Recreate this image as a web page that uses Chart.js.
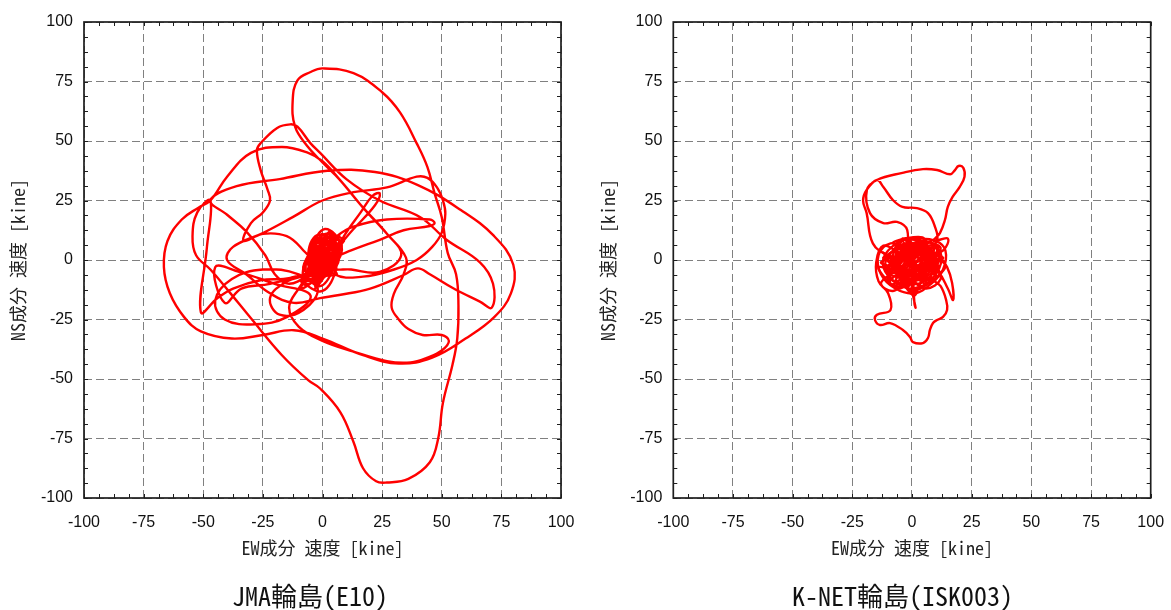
<!DOCTYPE html>
<html lang="ja">
<head>
<meta charset="utf-8">
<title>速度オービット</title>
<script src="https://cdn.jsdelivr.net/npm/chart.js@4.4.1/dist/chart.umd.min.js"></script>
<style>
  html, body { margin: 0; padding: 0; background: #fff; overflow: hidden; width: 1171px; height: 610px; }
  canvas { position: absolute; top: 0; }
  #jma { left: 0; width: 590px; height: 610px; }
  #knet { left: 590px; width: 581px; height: 610px; }
</style>
</head>
<body>
<canvas id="jma" width="590" height="610"></canvas>
<canvas id="knet" width="581" height="610"></canvas>
<script>
// Axis ticks (kine)
const tickValues = [-100, -75, -50, -25, 0, 25, 50, 75, 100];
const tickLabels = ['-100', '-75', '-50', '-25', '0', '25', '50', '75', '100'];

// JMA 輪島 (E10): EW / NS velocity orbit [kine]
const jmaEW = [
  0, 3, -2, -6, -3, 4, 7, 2, -4, -7, -1, 5, 8, 1, -5, -8, 0, 6, 4, -3, -6, -2, 3,
  9, 16, 21, 24, 22, 13, 4,
  -6, -14, -20, -24, -32, -40, -47,
  -36, -18, 2, 22, 40, 58, 72, 80, 79, 72, 60, 46, 32, 17, 0, -12, -25, -38, -51, -58, -64, -66.5, -65, -59, -52, -47,
  -40, -30, -17, -6, 0, 7, 17, 27, 35, 34, 30, 29, 32, 36, 42, 50, 53, 50, 44,
  37, 27, 13, 0, -10, -14, -10, -4,
  2, -3, 4, 6, 0, -5, -1, 3,
  12, 24, 33, 27, 17, 7, 0, -6.5, -11.5, -12.5, -10.5, -5, 0, 13, 25, 32.5, 39.5, 44, 47, 50,
  52.5, 56, 57, 56.5, 54.5, 50.5, 48.5, 45, 36, 27, 22.5, 17, 13, 7.5, -1, -6, -17, -30, -39, -47,
  -53, -54.5, -52.5, -47,
  -48.5, -51, -44, -37.5, -26, -13.5, -3, -8,
  -15, -25, -33, -30, -25, -22, -23, -26, -27.5, -26, -19, -13.5, -10.5, -5, -1,
  10, 24, 41, 52, 66, 71.5, 71, 66, 55, 45, 40, 34, 20, 7, -1,
  -12, -22, -32, -40, -37.5, -25, -12.5, 0, 13, 27, 39.5, 44, 48, 50.5, 51.5, 50, 46, 39.5, 30, 17, 5,
  -1, 6, 13, 27, 45, 47, 45, 34, 24, 12, 3,
  -6, -15, -22, -18, -8, -2, -10, -25, -38, -45, -41, -28, -15, -5,
  -20, -35, -45, -41, -34, -22,
  -2, 5, -1, -5, 2, 6, 0, -3, 1
];
const jmaNS = [
  0, 6, 9, 2, -7, -5, 3, 11, 5, -5, -11, -3, 6, 13, 4, -8, -13, -2, 8, 10, -1, -9, -2,
  10, 20, 27, 28, 23, 13, 3,
  -6, -10, -6, 2, 12, 19, 25,
  31, 34, 37.5, 37, 31.5, 21, 10, -2, -14, -24, -33, -41, -43.5, -40, -33, -29.5, -31.5, -33, -30, -24, -14, -3, 8, 17, 22, 25,
  35, 45, 47.5, 45, 41.5, 34, 22, 11, 1, -6, -14, -20, -25, -29, -31.5, -31.5, -34, -38, -41,
  -43, -42.5, -38.5, -34, -28, -20, -12, -4,
  2, 7, 9, -1, -6, 1, 5, -3,
  -4, -5, 2, 11, 22, 34, 41, 48, 56, 67, 75.5, 79, 80.5, 78.5, 70.5, 62, 49, 39, 28, 18,
  3, -6, -19, -33, -44, -60, -75, -85, -92, -93.5, -93, -87.5, -76.5, -64, -54, -50.5, -40, -24.5, -13.5, -4,
  2, 10, 20, 25,
  5, -22, -16, -12, -8.5, -7.5, -3, 4,
  10, 11, 8, 15.5, 20, 25, 29.5, 38, 46, 49, 55.5, 57, 56, 49, 45,
  34, 25, 18, 8.5, -1, -10, -20, -17.5, -12, -6, -3.5, -6.3, -12, -14.7, -16,
  -18, -14, -6, 0, 5.5, 11.3, 18, 25, 28.5, 30.5, 35, 34.5, 30.5, 25, 19.5, 11.5, 5.5, 0, -4, -7, -6,
  3, 10, 14, 17, 17, 15.5, 14.3, 12.5, 8.5, 4, 0,
  -6, -9, -16, -23, -21, -12, -6, -4, -8, -17, -25, -27, -24, -15,
  -10, -5, -3, -18, -12, -10,
  -4, 4, 8, 0, -5, 3, 6, -2, 1
];
// JMA: dense strong-motion core near the origin
const jmaCoreEW = [
  0, 5, -3, 2, -6, 4, -2, 7, -4, 1, -8, 3, 6, -1, -5, 8, -3, 2, -7, 5,
  0, -4, 6, -2, 3, -9, 1, 7, -6, 4, -1, 9, -5, 2, -3, 6, -8, 0, 5, -2,
  3, -6, 7, -1, -4, 4, -7, 2, 8, -3, 1, -5, 6, -2, 4, -9, 0, 3, -4, 7
];
const jmaCoreNS = [
  0, 7, -5, 10, -2, 3, -9, 8, 4, -6, -10, 12, 1, -3, 6, 9, -11, 5, -7, -1,
  11, 2, 7, -8, -4, -12, 4, 10, -5, 6, -2, 8, -9, 1, 3, -6, -4, 9, 2, -10,
  7, 0, 5, -7, 3, -3, -8, 11, 6, -12, -1, 4, -4, 8, 1, -9, -6, 10, -2, 5
];

// K-NET 輪島 (ISK003): EW / NS velocity orbit [kine]
const knetEW = [
  0, 4, -3, -8, -5, 3, 9, 6, -1, -10, -12, -6, 2, 10, 12, 5, -4, -7, 0, 7, 8, 1, -6, -11, -9,
  -2, 5, 11, 9, 2, -3, 3, 6, -2, -9, -14, -13, -7, 1, 8, 13, 14, 10, 3, -5, -8, -4, 4, 1, -2,
  -2, -6.3, -12, -17.6, -18.9, -14.7, -4, 4.6, 10.5, 16, 18, 19.5, 21.5, 22, 20, 17, 15, 13.8, 11.7, 9, 15, 13, 6, 0,
  -6, -3, 5, 9, 3, -4, -10, -8, 0, 7, 4, -3,
  -10, -16.4, -19, -20.5, -19, -14.7, -12, -8, -4, 2, 6.7, 9.6, 10.5, 6,
  -2, -9, -13, -8, -1, 6, 12, 10, 3, -5, -12, -15, -14,
  -10, -9, -14.7, -15.5, -13.4, -9.2, -3.8, -0.8, 0.4, 4.6, 6.7, 7.5, 8.8, 10.5, 13, 14.7, 14.3, 12, 8,
  12, 10.5, 14.7, 16.8, 17.2, 15, 11,
  5, 1, 1, 1.5, 0, -1, -7, -4, 2, 0
];
const knetNS = [
  0, 5, 7, 2, -6, -8, -2, 6, 9, 4, -3, -10, -12, -6, 3, 8, 4, -3, -7, -4, 4, 6, 5, 0, -8,
  -10, -9, -1, 6, 3, -3, -4, 1, 5, 7, 2, -6, -12, -14, -10, -4, 4, 8, 9, 8, -1, -5, -2, 2, -1,
  12.6, 16, 15.5, 19.7, 29.4, 33.6, 36.6, 38.2, 37.8, 36, 37.8, 39.5, 38.7, 35, 30.7, 26.5, 22.3, 16.8, 11.3, 8, 9, 4, 2, 3,
  -2, -9, -6, 2, 7, 3, -4, -11, -5, -1, 5, 1,
  2, 7, 19.7, 25, 29.4, 33.6, 30.7, 25.2, 22.3, 21.8, 19.7, 14, 8.4, 3,
  -3, -6, -10, -13, -9, -12, -8, -3, 1, 3, 6, -1, -9,
  -14, -21, -23, -25.2, -27.3, -26.5, -29.4, -32.4, -34.5, -34.9, -32.8, -29.4, -26.5, -25.2, -23.9, -21, -16.8, -11, -7,
  2, 3, -3, -9.7, -16.8, -12, -5,
  -1, -8, -18, -20, -12, 4, 1, -7, -4, 0
];
// K-NET: dense core near the origin
const knetCoreEW = [
  0, 6, -4, 9, -8, 3, -11, 7, -2, 12, -6, 1, -13, 5, 10, -3, -9, 4, 13, -5,
  2, -10, 8, -1, -7, 11, -4, 6, -12, 3, 9, -6, 0, 14, -8, 5, -2, 10, -11, 2,
  7, -5, -14, 4, 11, -3, 8, -9, 1, 6, -7, 12, -1, -10, 3, 9, -4, 5, -12, 0
];
const knetCoreNS = [
  0, -6, 4, 2, -3, 7, 1, -9, -12, 5, 8, -4, -1, 3, -7, 9, -10, -2, 1, 6,
  -8, -5, 8, 2, -11, -3, 6, -10, 3, -6, 5, 0, -13, -2, 7, 9, -7, -8, -4, 4,
  1, -12, -3, -6, 6, -9, -2, 3, -15, 8, -5, 0, 7, -9, 2, -4, 9, -11, 1, -7
];

const tickFont = '"Liberation Sans", Arial, sans-serif';
const jpFont = '"Noto Sans Mono CJK JP", "Noto Sans CJK JP", sans-serif';
const gridColor = '#808080';
const traceColor = '#ff0000';

// Frame, inward minor ticks on all four sides, and the station caption
const orbitFrame = {
  id: 'orbitFrame',
  afterDraw(chart, args, opts) {
    const { ctx, chartArea: a, scales: { x, y } } = chart;
    ctx.save();
    ctx.strokeStyle = '#1e1e1e';
    ctx.lineWidth = 1;
    ctx.beginPath();
    for (let v = -100; v <= 100; v += 6.25) {
      const px = Math.round(x.getPixelForValue(v)) + 0.5;
      ctx.moveTo(px, a.top); ctx.lineTo(px, a.top + 4);
      ctx.moveTo(px, a.bottom); ctx.lineTo(px, a.bottom - 4);
      const py = Math.round(y.getPixelForValue(v)) + 0.5;
      ctx.moveTo(a.left, py); ctx.lineTo(a.left + 4, py);
      ctx.moveTo(a.right, py); ctx.lineTo(a.right - 4, py);
    }
    ctx.stroke();
    ctx.lineWidth = 1.7;
    ctx.strokeRect(a.left, a.top, a.right - a.left, a.bottom - a.top);

    ctx.fillStyle = '#111';
    ctx.font = '26px ' + jpFont;
    ctx.textAlign = 'center';
    ctx.textBaseline = 'middle';
    ctx.fillText(opts.text, opts.cx, opts.cy);
    ctx.restore();
  }
};

function toPoints(ew, ns) {
  return ew.map((v, i) => ({ x: v, y: ns[i] }));
}

function orbitChart(id, trace, core, caption, layout) {
  const axisTicks = s => { s.ticks = tickValues.map(v => ({ value: v })); };
  const labelFor = v => tickLabels[tickValues.indexOf(v)];
  const line = (data, tension) => ({
    data, showLine: true, borderColor: traceColor, borderWidth: 2.4,
    pointRadius: 0, tension, fill: false
  });
  return new Chart(document.getElementById(id), {
    type: 'scatter',
    data: { datasets: [line(trace, 0.4), line(core, 0.3)] },
    options: {
      responsive: false,
      animation: false,
      devicePixelRatio: 1,
      layout: { padding: { left: 0, right: layout.padRight, top: 22, bottom: 0 } },
      plugins: {
        legend: { display: false },
        tooltip: { enabled: false },
        orbitFrame: { text: caption, cx: layout.captionX, cy: 596 }
      },
      scales: {
        x: {
          type: 'linear', min: -100, max: 100,
          afterBuildTicks: axisTicks,
          afterFit: s => { s.height = 112; },
          grid: { color: gridColor, lineWidth: 1, drawTicks: true, tickLength: 15, tickColor: 'rgba(0,0,0,0)' },
          border: { display: false, dash: [8, 4] },
          ticks: { padding: 0, color: '#111', font: { family: tickFont, size: 16 },
                   callback: labelFor, maxRotation: 0, autoSkip: false },
          title: { display: true, text: 'EW成分 速度 [kine]', color: '#222',
                   font: { family: jpFont, size: 18 }, padding: { top: 0, bottom: 51 } }
        },
        y: {
          type: 'linear', min: -100, max: 100,
          afterBuildTicks: axisTicks,
          afterFit: s => { s.width = layout.yWidth; },
          grid: { color: gridColor, lineWidth: 1, drawTicks: false },
          border: { display: false, dash: [8, 4] },
          ticks: { padding: 11, color: '#111', font: { family: tickFont, size: 16 },
                   callback: labelFor, autoSkip: false },
          title: { display: true, text: 'NS成分 速度 [kine]', color: '#222',
                   font: { family: jpFont, size: 18 }, padding: { top: 7, bottom: 0 } }
        }
      }
    },
    plugins: [orbitFrame]
  });
}

orbitChart('jma', toPoints(jmaEW, jmaNS), toPoints(jmaCoreEW, jmaCoreNS),
           'JMA輪島(E10)', { padRight: 29, yWidth: 84, captionX: 310 });
orbitChart('knet', toPoints(knetEW, knetNS), toPoints(knetCoreEW, knetCoreNS),
           'K-NET輪島(ISK003)', { padRight: 20.3, yWidth: 83.3, captionX: 312.5 });
</script>
</body>
</html>
